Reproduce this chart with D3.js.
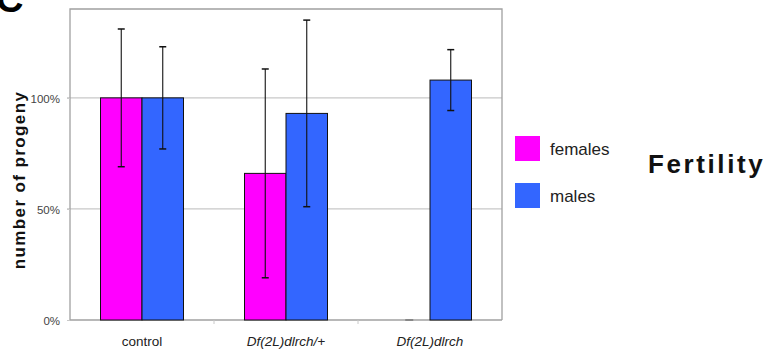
<!DOCTYPE html>
<html><head><meta charset="utf-8">
<script src="https://cdn.jsdelivr.net/npm/d3@7"></script>
<style>html,body{margin:0;padding:0;background:#fff;} svg{display:block;}</style>
</head><body>
<svg id="c" width="770" height="351"></svg>
<script>
const categories = ["control", "Df(2L)dlrch/+", "Df(2L)dlrch"];
const italicCats = [false, true, true];
const seriesNames = ["females", "males"];
const seriesColors = ["#ff00ff", "#3366ff"];
const femalesValues = [1.00, 0.66, 0.0];
const femalesErr = [0.31, 0.47, 0.0];
const malesValues = [1.00, 0.93, 1.08];
const malesErr = [0.23, 0.42, 0.137];
const yTicks = [0, 0.5, 1.0];
const yTickLabels = ["0%", "50%", "100%"];

const svg = d3.select("#c");
const font = "'Liberation Sans', Arial, sans-serif";
const L = 70, R = 502, T = 9, B = 320;

const x = d3.scaleBand().domain(categories).range([L, R]).paddingInner(0).paddingOuter(0);
const xs = d3.scaleBand().domain(seriesNames).range([0, x.bandwidth()]).paddingInner(0).paddingOuter(0.735);
const y = d3.scaleLinear().domain([0, 1.4]).range([B, T]);

// big panel letter
svg.append("text").attr("x", -4).attr("y", 12).attr("font-family", font).attr("font-weight", "bold")
  .attr("font-size", 38).attr("fill", "#000").text("C");

// gridlines
svg.append("g").selectAll("line").data(yTicks.filter(d => d > 0)).join("line")
  .attr("x1", L - 3).attr("x2", R).attr("y1", d => y(d)).attr("y2", d => y(d))
  .attr("stroke", "#c8c8c8").attr("stroke-width", 1.2);

// frame
svg.append("path").attr("d", `M${L},${B}V${T}H${R}V${B}`).attr("fill", "none")
  .attr("stroke", "#a0a0a0").attr("stroke-width", 1.3);

// y axis
const yAxis = d3.axisLeft(y).tickValues(yTicks).tickFormat((d, i) => yTickLabels[i]).tickSize(3).tickPadding(7);
const gy = svg.append("g").attr("transform", `translate(${L},0)`).call(yAxis);
gy.select(".domain").remove();
gy.selectAll(".tick line").attr("stroke", "#c8c8c8");
gy.selectAll(".tick text").attr("font-family", font).attr("font-size", 11.5).attr("fill", "#444").attr("dy", "0.4em");

// x axis
const xAxis = d3.axisBottom(x).tickSize(0).tickPadding(16).tickFormat(d => d);
const gx = svg.append("g").attr("transform", `translate(0,${B})`).call(xAxis);
gx.select(".domain").attr("stroke", "#a0a0a0").attr("stroke-width", 1.3).attr("d", `M${L},0H${R}`);
gx.selectAll(".tick text").attr("font-family", font).attr("font-size", 13.5).attr("fill", "#222")
  .attr("font-style", (d, i) => italicCats[i] ? "italic" : "normal");
// category separator ticks
svg.append("g").selectAll("line").data(categories.slice(1)).join("line")
  .attr("x1", d => x(d)).attr("x2", d => x(d)).attr("y1", B).attr("y2", B + 4)
  .attr("stroke", "#c8c8c8").attr("stroke-width", 1);

// bars
const data = [];
categories.forEach((c, i) => {
  data.push({cat: c, s: "females", v: femalesValues[i], e: femalesErr[i], col: seriesColors[0]});
  data.push({cat: c, s: "males", v: malesValues[i], e: malesErr[i], col: seriesColors[1]});
});
const g = svg.append("g");
g.selectAll("rect").data(data.filter(d => d.v > 0)).join("rect")
  .attr("x", d => x(d.cat) + xs(d.s)).attr("width", xs.bandwidth())
  .attr("y", d => y(d.v)).attr("height", d => y(0) - y(d.v))
  .attr("fill", d => d.col).attr("stroke", "#111").attr("stroke-width", 1);
// zero-value marker
g.selectAll("line.zero").data(data.filter(d => d.v === 0)).join("line").attr("class", "zero")
  .attr("x1", d => x(d.cat) + xs(d.s) + xs.bandwidth() / 2 - 4).attr("x2", d => x(d.cat) + xs(d.s) + xs.bandwidth() / 2 + 4)
  .attr("y1", y(0)).attr("y2", y(0)).attr("stroke", "#777").attr("stroke-width", 1.5);

// error bars
const eb = svg.append("g").selectAll("g").data(data.filter(d => d.e > 0)).join("g")
  .attr("transform", d => `translate(${x(d.cat) + xs(d.s) + xs.bandwidth() / 2},0)`);
eb.append("line").attr("y1", d => y(d.v + d.e)).attr("y2", d => y(d.v - d.e)).attr("stroke", "#111").attr("stroke-width", 1.1);
eb.append("line").attr("x1", -3.5).attr("x2", 3.5).attr("y1", d => y(d.v + d.e)).attr("y2", d => y(d.v + d.e)).attr("stroke", "#111").attr("stroke-width", 1.5);
eb.append("line").attr("x1", -3.5).attr("x2", 3.5).attr("y1", d => y(d.v - d.e)).attr("y2", d => y(d.v - d.e)).attr("stroke", "#111").attr("stroke-width", 1.5);

// y title
svg.append("text").attr("transform", "translate(25,180) rotate(-90)").attr("text-anchor", "middle")
  .attr("font-family", font).attr("font-weight", "bold").attr("font-size", 17).attr("fill", "#111")
  .attr("letter-spacing", 1.4).text("number of progeny");

// legend
const lg = svg.append("g").selectAll("g").data(seriesNames).join("g")
  .attr("transform", (d, i) => `translate(515,${136 + i * 47})`);
lg.append("rect").attr("width", 25).attr("height", 25).attr("fill", (d, i) => seriesColors[i]);
lg.append("text").attr("x", 35).attr("y", 13).attr("dy", "0.35em").attr("font-family", font)
  .attr("font-size", 17).attr("fill", "#222").text(d => d);

// title
svg.append("text").attr("x", 648).attr("y", 173).attr("font-family", font).attr("font-weight", "bold")
  .attr("font-size", 26).attr("letter-spacing", 2.6).attr("fill", "#111").text("Fertility");
</script>
</body></html>
